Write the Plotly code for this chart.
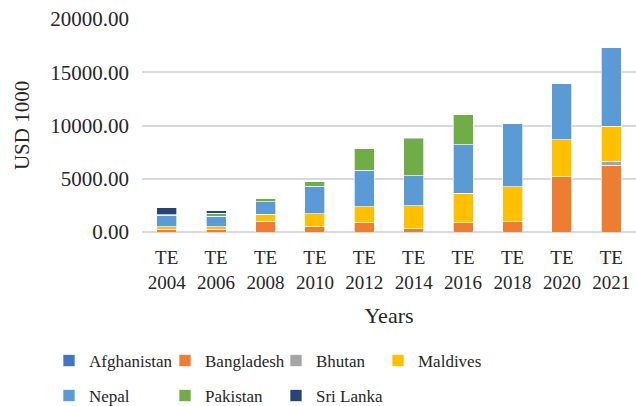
import plotly.graph_objects as go

# Categories (triennium ending years)
years = ["TE<br>2004", "TE<br>2006", "TE<br>2008", "TE<br>2010", "TE<br>2012",
         "TE<br>2014", "TE<br>2016", "TE<br>2018", "TE<br>2020", "TE<br>2021"]

# Values in USD 1000, stacked bottom to top
afghanistan = [0, 0, 0, 0, 0, 0, 0, 0, 0, 0]
bangladesh = [280, 280, 1000, 500, 880, 310, 880, 950, 5200, 6250]
bhutan = [0, 0, 0, 0, 0, 0, 0, 0, 0, 380]
maldives = [190, 190, 660, 1200, 1480, 2170, 2750, 3300, 3470, 3300]
nepal = [1100, 1000, 1195, 2580, 3430, 2800, 4560, 5910, 5250, 7350]
pakistan = [60, 280, 315, 440, 2015, 3460, 2830, 0, 0, 0]
sri_lanka = [630, 225, 0, 0, 0, 90, 0, 0, 0, 0]

series_names = ["Afghanistan", "Bangladesh", "Bhutan", "Maldives", "Nepal", "Pakistan", "Sri Lanka"]
series_values = [afghanistan, bangladesh, bhutan, maldives, nepal, pakistan, sri_lanka]
series_colors = ["#4472C4", "#ED7D31", "#A5A5A5", "#FFC000", "#5B9BD5", "#70AD47", "#264478"]

FONT = "Liberation Serif"
TXT = "#262626"

# Plot area geometry (pixels) used to place the legend entries
PLOT_L, PLOT_W, PLOT_B, PLOT_H = 142, 494, 232, 213
# Legend entry anchor points (left x, centre y) in a 4 + 3 grid
entry_x = [49, 165, 276, 378, 49, 165, 276]
entry_y = [361, 361, 361, 361, 396, 396, 396]

fig = go.Figure()
legends = {}
for i, (name, vals, color) in enumerate(zip(series_names, series_values, series_colors)):
    key = "legend" if i == 0 else f"legend{i + 1}"
    fig.add_trace(go.Bar(
        x=years, y=vals, name=name, legend=key, showlegend=True,
        marker=dict(color=color, line=dict(color="rgba(255,255,255,0.85)", width=0.8)),
    ))
    legends[key] = dict(
        orientation="h", xanchor="left", yanchor="middle",
        x=(entry_x[i] - PLOT_L) / PLOT_W,
        y=(PLOT_B - entry_y[i]) / PLOT_H,
        font=dict(family=FONT, size=17, color=TXT),
        itemwidth=30, bgcolor="rgba(0,0,0,0)", visible=True,
    )

fig.update_layout(
    width=636, height=406,
    showlegend=True,
    margin=dict(l=PLOT_L, r=0, t=19, b=174, autoexpand=False),
    barmode="stack", bargap=0.595,
    plot_bgcolor="white", paper_bgcolor="white",
    font=dict(family=FONT, color=TXT),
    xaxis=dict(
        tickfont=dict(family=FONT, size=19, color=TXT),
        showgrid=False, showline=False, ticks="", ticklabelstandoff=12,
        title=dict(text="Years", font=dict(family=FONT, size=22, color=TXT), standoff=15),
    ),
    yaxis=dict(
        range=[0, 20000], dtick=5000, tickformat=".2f",
        tickfont=dict(family=FONT, size=21, color=TXT),
        showgrid=True, gridcolor="#D9D9D9", gridwidth=1.5,
        zeroline=True, zerolinecolor="#D9D9D9", zerolinewidth=1.5,
        ticks="", ticklabelstandoff=12,
        title=dict(text="USD 1000", font=dict(family=FONT, size=21, color=TXT), standoff=14),
    ),
    **legends,
)

fig.write_html("out.html")
